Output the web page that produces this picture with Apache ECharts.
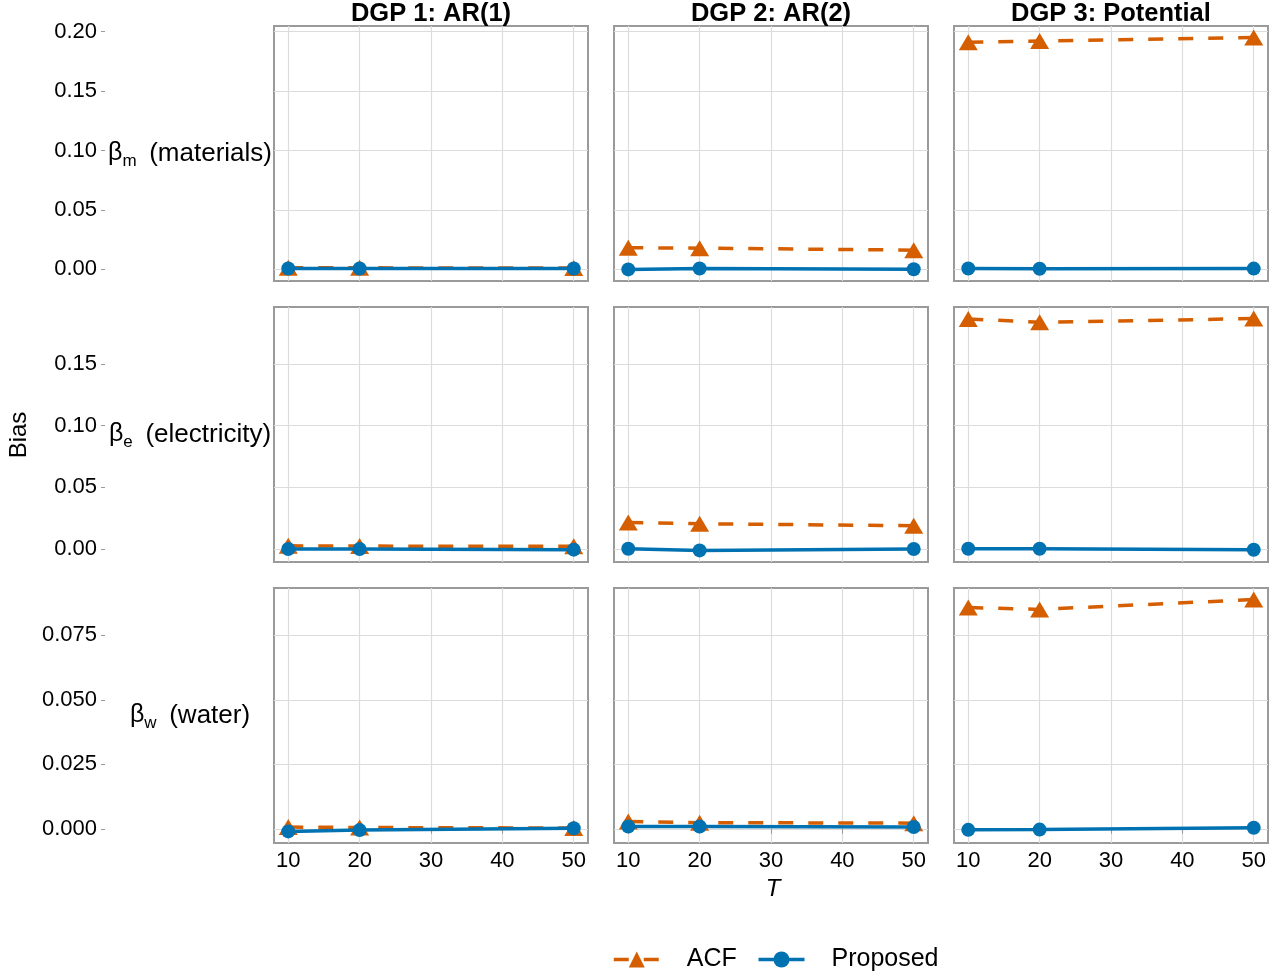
<!DOCTYPE html>
<html>
<head>
<meta charset="utf-8">
<script src="https://cdn.jsdelivr.net/npm/echarts@6/dist/echarts.min.js"></script>
<style>
html, body { margin: 0; padding: 0; background: #fff; }
#chart { width: 1285px; height: 976px; }
</style>
</head>
<body>
<div id="chart"></div>
<script>
// sample sizes and tick labels
var tValues = [10, 20, 50];
var xTicks = [10, 20, 30, 40, 50];
var dgpTitles = ['DGP 1: AR(1)', 'DGP 2: AR(2)', 'DGP 3: Potential'];
var coefSubs = ['m', 'e', 'w'];
var coefNames = ['materials', 'electricity', 'water'];
var yTicksMaterials = [0, 0.05, 0.10, 0.15, 0.20];
var yTicksElectricity = [0, 0.05, 0.10, 0.15];
var yTicksWater = [0, 0.025, 0.050, 0.075];

// bias by DGP (one inner array per DGP, values at T = 10, 20, 50)
var acfMaterials = [[0.0015, 0.0013, 0.0012], [0.0182, 0.0179, 0.0162], [0.1911, 0.1922, 0.1950]];
var proposedMaterials = [[0.0008, 0.0008, 0.0008], [0.0000, 0.0008, 0.0001], [0.0008, 0.0006, 0.0007]];
var acfElectricity = [[0.0026, 0.0024, 0.0022], [0.0216, 0.0205, 0.0189], [0.1865, 0.1838, 0.1868]];
var proposedElectricity = [[0.0000, 0.0000, -0.0005], [0.0002, -0.0011, 0.0000], [0.0002, 0.0002, -0.0006]];
var acfWater = [[0.0007, 0.0005, 0.0003], [0.0028, 0.0024, 0.0022], [0.0857, 0.0850, 0.0888]];
var proposedWater = [[-0.0010, -0.0005, 0.0002], [0.0009, 0.0009, 0.0007], [-0.0004, -0.0003, 0.0004]];

var acfRows = [acfMaterials, acfElectricity, acfWater];
var proposedRows = [proposedMaterials, proposedElectricity, proposedWater];
var yTickRows = [yTicksMaterials, yTicksElectricity, yTicksWater];
var yDecimals = [2, 2, 3];

var orange = '#D55E00';
var blue = '#0072B2';
var font = 'Liberation Sans';
var ink = '#000';

var colLeft = [274, 614, 954];
var rowTop = [26, 307, 588];
var panelW = 314, panelH = 255;

var myChart = echarts.init(document.getElementById('chart'));

var grids = [], xAxes = [], yAxes = [], series = [], graphics = [];

for (var r = 0; r < 3; r++) {
    // ggplot-like 5% expansion of the row's data range
    var all = [];
    for (var c0 = 0; c0 < 3; c0++) {
        all = all.concat(acfRows[r][c0], proposedRows[r][c0]);
    }
    var lo = Math.min.apply(null, all), hi = Math.max.apply(null, all);
    var pad = (hi - lo) * 0.05;
    var yMin = lo - pad, yMax = hi + pad;

    for (var c = 0; c < 3; c++) {
        var i = r * 3 + c;
        grids.push({
            left: colLeft[c], top: rowTop[r], width: panelW, height: panelH,
            show: true, borderColor: '#9a9a9a', borderWidth: 2, backgroundColor: '#fff'
        });
        xAxes.push({
            type: 'value', gridIndex: i, min: 8, max: 52,
            axisLine: {show: false},
            axisTick: {show: r === 2, customValues: xTicks, length: 5, lineStyle: {color: '#9a9a9a'}},
            axisLabel: {show: r === 2, customValues: xTicks, fontSize: 22, color: ink, fontFamily: font, margin: 7},
            splitLine: {show: true, lineStyle: {color: '#dcdcdc', width: 1.2}}
        });
        (function (dec) {
            yAxes.push({
                type: 'value', gridIndex: i, min: yMin, max: yMax,
                offset: c === 0 ? 169 : 0,
                axisLine: {show: false},
                axisTick: {show: c === 0, customValues: yTickRows[r], length: 4, lineStyle: {color: '#9a9a9a'}},
                axisLabel: {
                    show: c === 0, customValues: yTickRows[r], fontSize: 22, color: ink, fontFamily: font, margin: 8,
                    formatter: function (v) { return v.toFixed(dec); }
                },
                splitLine: {show: true, lineStyle: {color: '#dcdcdc', width: 1.2}}
            });
        })(yDecimals[r]);

        series.push({
            name: 'ACF', type: 'line', xAxisIndex: i, yAxisIndex: i,
            data: tValues.map(function (t, k) { return [t, acfRows[r][c][k]]; }),
            symbol: 'triangle', symbolSize: [19, 16], showSymbol: true,
            itemStyle: {color: orange},
            lineStyle: {color: orange, width: 3.5, type: [15, 15]},
            animation: false, z: 2
        });
        series.push({
            name: 'Proposed', type: 'line', xAxisIndex: i, yAxisIndex: i,
            data: tValues.map(function (t, k) { return [t, proposedRows[r][c][k]]; }),
            symbol: 'circle', symbolSize: 14, showSymbol: true,
            itemStyle: {color: blue},
            lineStyle: {color: blue, width: 3.5},
            animation: false, z: 3
        });
    }

    // row strip label, e.g. beta_m (materials)
    graphics.push({
        type: 'text', x: 190, y: rowTop[r] + panelH / 2,
        style: {
            text: '{g|β}{s|' + coefSubs[r] + '}  {t|(' + coefNames[r] + ')}',
            align: 'center', verticalAlign: 'middle',
            rich: {
                g: {fontSize: 25, fontFamily: font, fill: ink, lineHeight: 32},
                s: {fontSize: 17, fontFamily: font, fill: ink, lineHeight: 32, verticalAlign: 'bottom'},
                t: {fontSize: 26, fontFamily: font, fill: ink, lineHeight: 32, padding: [0, 0, 0, 6]}
            }
        }
    });
}

// column strip titles
for (var cc = 0; cc < 3; cc++) {
    graphics.push({
        type: 'text', x: colLeft[cc] + panelW / 2, y: 14,
        style: {text: dgpTitles[cc], align: 'center', verticalAlign: 'middle',
            font: 'bold 25.5px "Liberation Sans"', fill: ink}
    });
}
// axis titles
graphics.push({
    type: 'text', x: 19, y: 435, rotation: Math.PI / 2,
    style: {text: 'Bias', align: 'center', verticalAlign: 'middle', font: '24px "Liberation Sans"', fill: ink}
});
graphics.push({
    type: 'text', x: colLeft[1] + panelW / 2 + 2, y: 889,
    style: {text: 'T', align: 'center', verticalAlign: 'middle', font: 'italic 24px "Liberation Sans"', fill: ink}
});

var option = {
    backgroundColor: '#fff',
    animation: false,
    grid: grids,
    xAxis: xAxes,
    yAxis: yAxes,
    series: series,
    graphic: graphics,
    legend: {
        data: ['ACF', 'Proposed'],
        left: 612, top: 947, padding: 0,
        itemWidth: 46, itemHeight: 20, itemGap: 20,
        lineStyle: {width: 3.5},
        textStyle: {fontSize: 25, fontFamily: font, color: ink, padding: [0, 0, 0, 22]}
    }
};
myChart.setOption(option);
</script>
</body>
</html>
